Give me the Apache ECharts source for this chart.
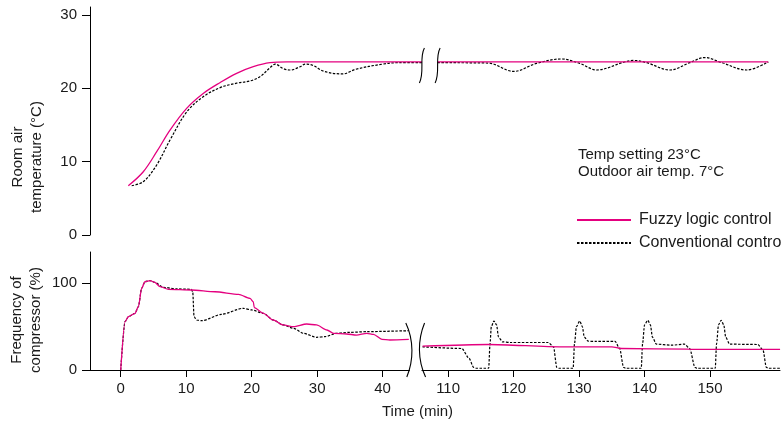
<!DOCTYPE html>
<html><head><meta charset="utf-8">
<script src="https://cdn.jsdelivr.net/npm/echarts@6/dist/echarts.min.js"></script>
<style>html,body{margin:0;padding:0;background:#fff}#c{width:781px;height:425px}</style>
</head><body><div id="c"></div>
<script>
// ---- data (time in minutes; null marks the axis break) ----
const tempFuzzyTime = [1.16, 3.45, 5.5, 7.53, 10.1, 12.6, 15.2, 17.7, 20.25, 22.8, 25.4, 32, 46.0, null, 108.4, 130, 158.9];
const tempFuzzyVal  = [6.72, 8.63, 11.36, 14.3, 17.3, 19.3, 20.8, 22.05, 22.95, 23.5, 23.6, 23.6, 23.6, null, 23.6, 23.6, 23.6];

const tempConvTime = [1.68, 3.45, 5.5, 7.53, 10.1, 12.6, 15.2, 17.7, 19.75, 21.3, 22.8, 23.6, 24.8, 25.9, 27.4, 28.2, 29.3, 31.1, 33.9, 35.9, 40.0, 42.5, 46.0, null,
  108.4, 116.1, 120.0, 123.5, 127.3, 130.1, 132.7, 136.8, 138.3, 140.3, 143.9, 146.9, 149.2, 151.8, 155.6, 158.9];
const tempConvVal  = [6.72, 7.27, 9.55, 12.95, 16.8, 18.86, 20.1, 20.7, 21.0, 21.6, 22.8, 23.3, 22.7, 22.5, 22.95, 23.3, 23.15, 22.3, 21.96, 22.6, 23.3, 23.5, 23.5, null,
  23.5, 23.45, 22.3, 23.4, 24.0, 23.4, 22.5, 23.55, 23.8, 23.5, 22.5, 23.5, 24.2, 23.5, 22.5, 23.6];

const freqFuzzyTime = [0, 0.66, 1.16, 2.18, 2.7, 3.2, 3.7, 4.5, 5.2, 6.0, 7.3, 10.8, 14.4, 18.0, 19.75, 20.25, 20.4, 21.8, 23.3, 24.8, 26.4, 28.4, 29.9, 31.5, 32.5, 34.5, 36.0, 37.6, 38.6, 39.9, 41.1, 44.0, null,
  106.1, 116.2, 127.4, 135.0, 136.5, 146.7, 147.7, 160.7];
const freqFuzzyVal  = [0, 55.7, 61.4, 65.3, 73, 94.2, 101.8, 103, 101, 96, 93, 92.2, 90.2, 87.2, 82.6, 78.7, 71.8, 65.3, 57.6, 51.9, 49.9, 53.0, 51.9, 46.1, 42.3, 41.5, 40.3, 42.3, 41.1, 35.4, 34.6, 35.2, null,
  27.5, 29.4, 26.7, 26.7, 24.8, 24.0, 23.7, 23.7];

const freqConvTime = [0, 0.66, 1.16, 2.18, 2.7, 3.2, 3.7, 4.5, 5.2, 6.5, 8.5, 10.8, 11.0, 11.2, 11.6, 12.4, 15.4, 18.7, 20.0, 21.8, 23.3, 24.8, 26.4, 27.9, 29.9, 31.2, 33.0, 35.0, 37.6, 44.0, null,
  106.1, 112.1, 113.2, 113.9, 114.3, 116.2, 116.4, 116.6, 117.0, 117.4, 117.7, 118.3, 119.5, 125.3, 126.1, 126.6, 126.9,
  129.1, 129.3, 129.6, 130.1, 130.5, 130.8, 131.4, 132.5, 135.5, 136.2, 136.8, 137.1,
  139.5, 139.7, 140.0, 140.5, 140.9, 141.2, 141.8, 144.1, 146.1, 146.9, 147.7, 148.0,
  150.8, 151.0, 151.3, 151.7, 152.1, 152.4, 153.0, 157.3, 158.1, 158.6, 158.9, 160.7];
const freqConvVal  = [0, 55.7, 61.4, 65.3, 73, 94.2, 101.8, 103, 101, 95.3, 93.5, 93, 90, 61.4, 57.6, 56.8, 64.2, 71.1, 69.2, 65.3, 57.6, 51.9, 48, 42.3, 37.7, 38.4, 42.3, 43.4, 44.2, 45.3, null,
  26.7, 24.8, 13.4, 3, 2, 2, 30, 50, 56.5, 52, 38, 32.5, 31.7, 31.7, 26.7, 3, 2,
  2, 30, 50, 56.5, 50, 38, 33.2, 33, 33, 24.8, 3, 2,
  2, 30, 52, 57.3, 52, 38, 29.8, 28.6, 29.8, 24.8, 3, 2,
  2, 30, 52, 57.3, 52, 38, 29.8, 29.4, 22.9, 3, 2, 2];

const tempTicks = [0, 10, 20, 30];
const freqTicks = [0, 100];
const timeTicks = [0, 10, 20, 30, 40, 110, 120, 130, 140, 150];
const breakGap = 60; // minutes removed from the axis after the break

// ---- helpers ----
const toAxis = t => (t >= 100 ? t - breakGap : t);
const fromAxis = v => (v >= 45 ? v + breakGap : v);
const pairs = (ts, vs) => ts.map((t, i) => (t === null ? [null, null] : [toAxis(t), vs[i]]));

const FONT = '"Liberation Sans", Arial, Helvetica, sans-serif';
const TXT = '#1a1a1a';
const PINK = '#e4007f';
const xMin = -4.69, xMax = 100.69;

const chart = echarts.init(document.getElementById('c'), null, {renderer: 'canvas'});

const axisCommon = {
  axisLine: {show: true, onZero: false, lineStyle: {color: '#000', width: 1}},
  splitLine: {show: false}
};

const option = {
  animation: false,
  backgroundColor: '#fff',
  textStyle: {fontFamily: FONT},
  grid: [
    {left: 90, right: 1, top: 7, height: 228},
    {left: 90, right: 1, top: 252, height: 118}
  ],
  xAxis: [
    {gridIndex: 0, type: 'value', min: xMin, max: xMax, show: false},
    Object.assign({gridIndex: 1, type: 'value', min: xMin, max: xMax}, axisCommon, {
      axisTick: {show: true, length: 7, lineStyle: {color: '#000'}, customValues: timeTicks.map(toAxis)},
      axisLabel: {customValues: timeTicks.map(toAxis), formatter: v => String(Math.round(fromAxis(v))),
        fontSize: 15, color: TXT, fontFamily: FONT, margin: 11}
    })
  ],
  yAxis: [
    Object.assign({gridIndex: 0, type: 'value', min: 0, max: 31.09}, axisCommon, {
      axisTick: {show: true, length: 8, lineStyle: {color: '#000'}, customValues: tempTicks},
      axisLabel: {customValues: tempTicks, fontSize: 15, color: TXT, fontFamily: FONT, margin: 13}
    }),
    Object.assign({gridIndex: 1, type: 'value', min: 0, max: 136}, axisCommon, {
      axisTick: {show: true, length: 8, lineStyle: {color: '#000'}, customValues: freqTicks},
      axisLabel: {customValues: freqTicks, fontSize: 15, color: TXT, fontFamily: FONT, margin: 13}
    })
  ],
  legend: {
    orient: 'vertical', left: 576, top: 212, padding: 0,
    itemWidth: 54, itemHeight: 12, itemGap: 7,
    itemStyle: {opacity: 0},
    textStyle: {fontSize: 16, color: TXT, fontFamily: FONT, padding: [0, 0, 0, 3]},
    data: ['Fuzzy logic control', 'Conventional control']
  },
  series: [
    {name: 'Fuzzy logic control', type: 'line', xAxisIndex: 0, yAxisIndex: 0, symbol: 'none', smooth: 0.35,
      lineStyle: {color: PINK, width: 1.3}, itemStyle: {color: PINK}, data: pairs(tempFuzzyTime, tempFuzzyVal), z: 3},
    {name: 'Conventional control', type: 'line', xAxisIndex: 0, yAxisIndex: 0, symbol: 'none', smooth: 0.35,
      lineStyle: {color: '#000', width: 1.2, type: [2.5, 1.5]}, itemStyle: {color: '#000'}, data: pairs(tempConvTime, tempConvVal), z: 2},
    {name: 'Fuzzy logic control', type: 'line', xAxisIndex: 1, yAxisIndex: 1, symbol: 'none', smooth: 0.25, smoothMonotone: 'x',
      lineStyle: {color: PINK, width: 1.3}, itemStyle: {color: PINK}, data: pairs(freqFuzzyTime, freqFuzzyVal), z: 3},
    {name: 'Conventional control', type: 'line', xAxisIndex: 1, yAxisIndex: 1, symbol: 'none', smooth: 0.25, smoothMonotone: 'x',
      lineStyle: {color: '#000', width: 1.2, type: [2.5, 1.5]}, itemStyle: {color: '#000'}, data: pairs(freqConvTime, freqConvVal), z: 2}
  ]
};
chart.setOption(option);

// ---- decorations: axis titles, annotation text, break marks ----
const px = (grid, x, y) => chart.convertToPixel({gridIndex: grid}, [x, y]);
const tA = px(0, 46.0, 0)[0], tB = px(0, 48.4, 0)[0];
const bA = px(1, 44.0, 0)[0], bB = px(1, 46.1, 0)[0];
const axisY = px(1, 0, 0)[1];
const lineSt = {stroke: '#000', lineWidth: 1.1, fill: null};

const graphics = [
  {type: 'text', x: 27, y: 157, rotation: Math.PI / 2,
    style: {text: 'Room air\ntemperature (°C)', font: '15px ' + FONT, fill: TXT, align: 'center', verticalAlign: 'middle', lineHeight: 19}},
  {type: 'text', x: 26, y: 320, rotation: Math.PI / 2,
    style: {text: 'Frequency of\ncompressor (%)', font: '15px ' + FONT, fill: TXT, align: 'center', verticalAlign: 'middle', lineHeight: 19}},
  {type: 'text', x: 578, y: 146,
    style: {text: 'Temp setting 23°C\nOutdoor air temp. 7°C', font: '15px ' + FONT, fill: TXT, align: 'left', verticalAlign: 'top', lineHeight: 17.5}},
  {type: 'text', x: 382, y: 412,
    style: {text: 'Time (min)', font: '15px ' + FONT, fill: TXT, align: 'left', verticalAlign: 'middle'}},
  // gap in the time axis line
  {type: 'rect', shape: {x: bA + 1, y: axisY - 2, width: bB - bA - 2, height: 4}, style: {fill: '#fff'}, z: 50},
  // top break marks
  {type: 'bezierCurve', shape: {x1: tA + 2.5, y1: 48, cpx1: tA - 3, cpy1: 58, cpx2: tA + 3, cpy2: 72, x2: tA - 2.5, y2: 83}, style: lineSt, z: 60},
  {type: 'bezierCurve', shape: {x1: tB + 2.5, y1: 48, cpx1: tB - 3, cpy1: 58, cpx2: tB + 3, cpy2: 72, x2: tB - 2.5, y2: 83}, style: lineSt, z: 60},
  // bottom break marks
  {type: 'bezierCurve', shape: {x1: bA - 3, y1: 323, cpx1: bA + 5, cpy1: 340, cpx2: bA + 5, cpy2: 360, x2: bA - 2, y2: 377}, style: lineSt, z: 60},
  {type: 'bezierCurve', shape: {x1: bB + 2, y1: 323, cpx1: bB - 5, cpy1: 340, cpx2: bB - 5, cpy2: 360, x2: bB + 3, y2: 377}, style: lineSt, z: 60}
];
chart.setOption({graphic: graphics});
</script>
</body></html>
